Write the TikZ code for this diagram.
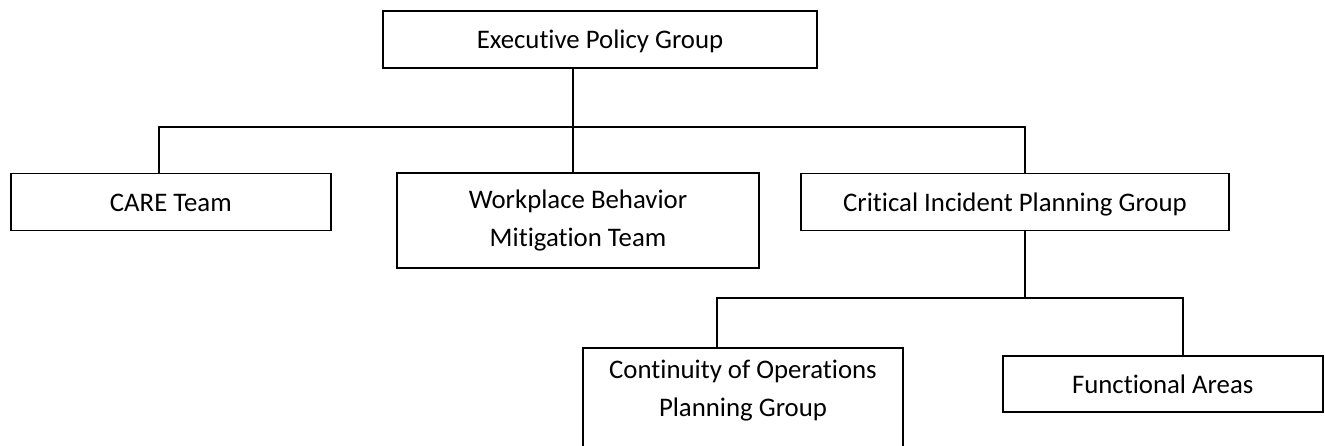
\documentclass[tikz,border=0pt]{standalone}
\usepackage{fontspec}
\setmainfont{Carlito}[Ligatures=NoCommon]
\usetikzlibrary{positioning}

\tikzset{
  orgbox/.style={draw, line width=1.8pt, minimum height=57pt, inner sep=0pt, align=center},
  oneline/.style={text height=19pt, text depth=1pt},
  link/.style={line width=1.8pt}
}

\begin{document}
\begin{tikzpicture}[x=1pt, y=-1pt, font=\fontsize{26.8}{37.3}\selectfont]
    \useasboundingbox (0,0) rectangle (1325,445);
    % Top level
    \node[orgbox, oneline, minimum width=434pt] (epg) at (600,39.3) {Executive Policy Group};
    % Second level
    \node[orgbox, oneline, minimum width=320pt] (care) at (170.8,202) {CARE Team};
    \node[orgbox, minimum width=362pt, minimum height=94.4pt] (wbm) at (578,220.5) {Workplace Behavior\\Mitigation Team};
    \node[orgbox, oneline, minimum width=428pt] (cipg) at (1015,202) {Critical Incident Planning Group};
    % Third level
    \node[orgbox, anchor=north, minimum width=320.6pt, minimum height=120pt,
          label={[anchor=north, align=center, inner sep=0pt, yshift=-13pt]north:Continuity of Operations\\Planning Group}]
          (coop) at (743,347.3) {};
    \node[orgbox, oneline, minimum width=320pt, minimum height=56.3pt] (fa) at (1162.7,384) {Functional Areas};

    % Bus lines
    \coordinate (trunk) at (572.7,126.7);
    \coordinate (busL) at (159,126.7);
    \coordinate (busR) at (1025,126.7);
    \coordinate (subL) at (716.7,298);
    \coordinate (subR) at (1183,298);

    \draw[link] (epg.south -| trunk) -- (wbm.north -| trunk);
    \draw[link] (care.north -| busL) -- (busL) -- (busR) -- (cipg.north -| busR);
    \draw[link] (cipg.south -| busR) -- (busR |- subL);
    \draw[link] (coop.north -| subL) -- (subL) -- (subR) -- (fa.north -| subR);
\end{tikzpicture}
\end{document}
